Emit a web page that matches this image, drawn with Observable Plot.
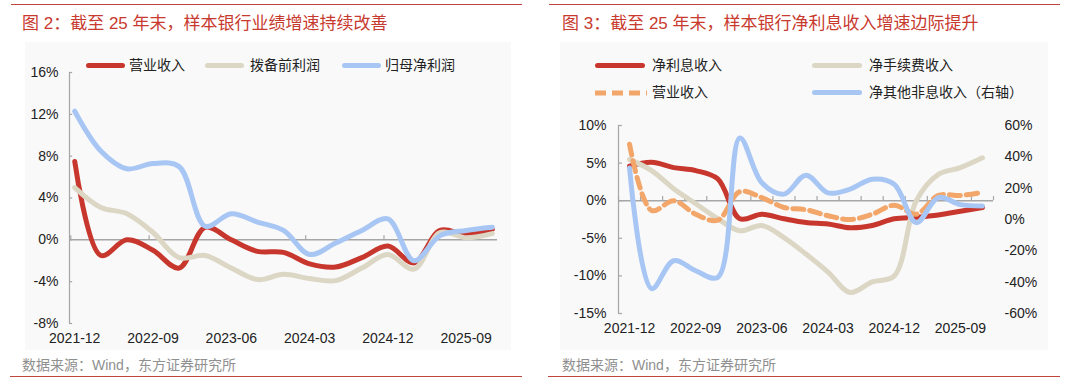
<!DOCTYPE html>
<html><head><meta charset="utf-8">
<script src="https://cdn.jsdelivr.net/npm/d3@7"></script>
<script src="https://cdn.jsdelivr.net/npm/@observablehq/plot@0.6"></script>
<style>
body{margin:0;width:1073px;height:381px;position:relative;background:#fff;font-family:"Liberation Sans","Noto Sans CJK SC",sans-serif;overflow:hidden}
.abs{position:absolute}
.title{color:#C8392E;font-size:17px;line-height:22px;white-space:nowrap}
.src{color:#8f8f8f;font-size:14px;line-height:16px;white-space:nowrap}
.rule{height:1px;background:#C0463C}
.bg{background:#f9f9f9}
.leg{font-size:14px;line-height:16px;color:#222;white-space:nowrap}
</style></head><body>
<script>
// ---------- data ----------
const quarters = ["2021-12","2022-03","2022-06","2022-09","2022-12","2023-03","2023-06","2023-09","2023-12","2024-03","2024-06","2024-09","2024-12","2025-03","2025-06","2025-09","2025-12"];
const xTickLabels = ["2021-12","2022-09","2023-06","2024-03","2024-12","2025-09"];

// Figure 2 (left)
const leftNames = ["营业收入","拨备前利润","归母净利润"];
const leftColors = ["#C8372D","#DCD6C5","#A8C6F4"];
const revenue   = [7.5,-1.5,0.0,-1.0,-2.7,1.2,0.0,-1.1,-1.2,-2.3,-2.6,-1.7,-0.6,-2.2,0.9,0.5,1.0];
const ppop      = [5.0,3.1,2.5,0.7,-1.7,-1.5,-2.7,-3.8,-3.3,-3.7,-3.9,-2.7,-1.4,-2.8,0.7,0.2,0.6];
const netProfit = [12.3,8.5,6.8,7.3,7.0,1.3,2.5,1.7,0.9,-1.4,-0.3,0.9,2.0,-2.0,0.4,0.9,1.2];
const leftYTicks = [-8,-4,0,4,8,12,16];

// Figure 3 (right)
const rightNames = ["净利息收入","净手续费收入","营业收入","净其他非息收入（右轴）"];
const rightColors = ["#C8372D","#DCD6C5","#F2A66A","#A8C6F4"];
const nii      = [4.6,5.1,4.4,4.0,2.9,-2.4,-1.8,-2.4,-2.9,-3.1,-3.6,-3.3,-2.4,-2.2,-1.9,-1.4,-0.9];
const fee      = [5.5,4.0,1.6,-0.4,-2.4,-4.0,-3.3,-4.9,-7.1,-9.5,-12.2,-10.8,-10.0,0.0,3.5,4.4,5.7];
const revenue2 = [7.5,-1.3,0.0,-1.8,-2.6,1.2,0.4,-0.9,-1.2,-2.0,-2.5,-1.8,-0.6,-1.8,0.7,0.7,1.1];
const otherNonInt = [32.9,-44.1,-26.3,-32.7,-36.9,52.0,23.4,16.2,28.3,17.0,19.4,25.7,22.5,-2.0,14.0,9.5,8.6];
const rightLeftTicks = [-15,-10,-5,0,5,10];
const rightRightTicks = [-60,-40,-20,0,20,40,60];

// ---------- helpers ----------
const FONT = '"Liberation Sans","Noto Sans CJK SC",sans-serif';
const AX = "#a6a6a6";
function div(cls, css, text){const d=document.createElement("div");d.className="abs "+(cls||"");Object.assign(d.style,css);if(text!=null)d.textContent=text;document.body.appendChild(d);return d;}
const tickIdx = xTickLabels.map(l => quarters.indexOf(l));
const style = {fontFamily: FONT, fontSize: "14px", color: "#222", background: "transparent", overflow: "visible"};

// backgrounds
div("bg",{left:"25px",top:"42px",width:"486px",height:"308px"});
div("bg",{left:"560px",top:"42px",width:"488px",height:"308px"});

// frame rules, titles, sources
div("rule",{left:"11px",top:"4px",width:"511px"});
div("rule",{left:"549px",top:"4px",width:"511px"});
div("rule",{left:"10px",top:"376px",width:"512px"});
div("rule",{left:"548px",top:"376px",width:"512px"});
div("title",{left:"22px",top:"13px"},"图 2：截至 25 年末，样本银行业绩增速持续改善");
div("title",{left:"562px",top:"13px"},"图 3：截至 25 年末，样本银行净利息收入增速边际提升");
div("src",{left:"22px",top:"357px"},"数据来源：Wind，东方证券研究所");
div("src",{left:"562px",top:"357px"},"数据来源：Wind，东方证券研究所");

// ---------- left chart ----------
{
  const xd = [-0.2, 16.2];
  const series = [revenue, ppop, netProfit];
  const L = Plot.plot({
    width: 511, height: 320,
    marginLeft: 58, marginRight: 25, marginTop: 32, marginBottom: 37,
    x: {domain: xd}, y: {domain: [-8, 16]},
    style,
    marks: [
      Plot.ruleX([xd[0]], {stroke: AX, strokeWidth: 1.2}),
      Plot.ruleY(leftYTicks, {y: d => d, x1: xd[0], x2: xd[0] + 0.12, stroke: AX, strokeWidth: 1.2}),
      Plot.ruleY([0], {stroke: AX, strokeWidth: 1.5}),
      Plot.ruleX(tickIdx, {x: d => d - 0.15, y1: 0, y2: 0.4, stroke: AX, strokeWidth: 1.2}),
      ...series.map((s, k) => Plot.line(s, {x: (d, i) => i, y: d => d, curve: "catmull-rom", stroke: leftColors[k], strokeWidth: 5, strokeLinejoin: "round", strokeLinecap: "round"})),
      Plot.axisY({ticks: leftYTicks, tickSize: 0, tickPadding: 11, tickFormat: d => d + "%", label: null}),
      Plot.axisX({ticks: tickIdx, tickSize: 0, tickPadding: 10, tickFormat: i => quarters[i], label: null})
    ]
  });
  L.style.position = "absolute"; L.style.left = "11px"; L.style.top = "40px";
  document.body.appendChild(L);

  const legX = [[86, 129], [205, 250], [342, 385]];
  leftNames.forEach((n, k) => {
    div("", {left: legX[k][0] + "px", top: "62.5px", width: "39px", height: "5px", background: leftColors[k], borderRadius: "3px"});
    div("leg", {left: legX[k][1] + "px", top: "57px"}, n);
  });
}

// ---------- right chart ----------
{
  const xd = [-0.5, 16.5];
  const toLeft = r => r * 25 / 120 - 2.5;
  const fromLeft = v => Math.round((v + 2.5) * 120 / 25);
  const bounds = d3.range(18).map(i => i - 0.5);
  const R = Plot.plot({
    width: 511, height: 240,
    marginLeft: 69, marginRight: 67, marginTop: 15, marginBottom: 37,
    x: {domain: xd}, y: {domain: [-15, 10]},
    style,
    marks: [
      Plot.ruleX([xd[0]], {stroke: AX, strokeWidth: 1.2}),
      Plot.ruleY(rightLeftTicks, {y: d => d, x1: xd[0], x2: xd[0] + 0.18, stroke: AX, strokeWidth: 1.2}),
      Plot.ruleY([0], {stroke: AX, strokeWidth: 1.5}),
      Plot.ruleX(bounds, {x: d => d, y1: 0, y2: 0.55, stroke: AX, strokeWidth: 1.2}),
      Plot.line(nii, {x: (d, i) => i, y: d => d, curve: "catmull-rom", stroke: rightColors[0], strokeWidth: 5, strokeLinecap: "round"}),
      Plot.line(fee, {x: (d, i) => i, y: d => d, curve: "catmull-rom", stroke: rightColors[1], strokeWidth: 5, strokeLinecap: "round"}),
      Plot.line(revenue2, {x: (d, i) => i, y: d => d, curve: "catmull-rom", stroke: rightColors[2], strokeWidth: 5, strokeDasharray: "11,6"}),
      Plot.line(otherNonInt, {x: (d, i) => i, y: d => toLeft(d), curve: "catmull-rom", stroke: rightColors[3], strokeWidth: 5, strokeLinecap: "round"}),
      Plot.axisY({ticks: rightLeftTicks, tickSize: 0, tickPadding: 12, tickFormat: d => d + "%", label: null}),
      Plot.axisY({anchor: "right", ticks: rightRightTicks.map(toLeft), tickSize: 0, tickPadding: 11, tickFormat: d => fromLeft(d) + "%", label: null}),
      Plot.axisX({ticks: tickIdx, tickSize: 0, tickPadding: 10, tickFormat: i => quarters[i], label: null})
    ]
  });
  R.style.position = "absolute"; R.style.left = "549px"; R.style.top = "110px";
  document.body.appendChild(R);

  const legPos = [[595, 652, 62.5], [812, 869, 62.5], [595, 652, 89.5], [812, 869, 89.5]];
  rightNames.forEach((n, k) => {
    const [sx, tx, ty] = legPos[k];
    if (k === 2) {
      const s = document.createElementNS("http://www.w3.org/2000/svg", "svg");
      s.setAttribute("width", 52); s.setAttribute("height", 6);
      s.style.position = "absolute"; s.style.left = sx + "px"; s.style.top = ty + "px";
      s.innerHTML = `<line x1="0" y1="3" x2="52" y2="3" stroke="${rightColors[k]}" stroke-width="5" stroke-dasharray="11,6"/>`;
      document.body.appendChild(s);
    } else {
      div("", {left: sx + "px", top: ty + "px", width: "50px", height: "5px", background: rightColors[k], borderRadius: "3px"});
    }
    div("leg", {left: tx + "px", top: (ty - 5.5) + "px"}, n);
  });
}
</script>
</body></html>
